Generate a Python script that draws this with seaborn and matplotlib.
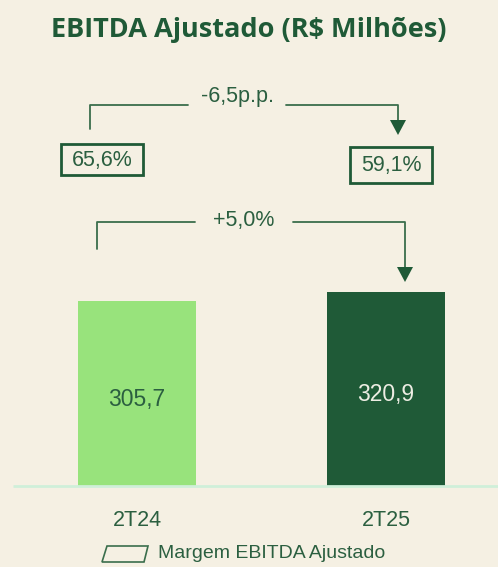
import matplotlib
matplotlib.use("Agg")
import matplotlib.pyplot as plt
import seaborn as sns
import pandas as pd
from matplotlib.patches import Polygon, Rectangle

periods = ["2T24", "2T25"]
ebitda = [305.7, 320.9]
ebitda_labels = ["305,7", "320,9"]
margins = ["65,6%", "59,1%"]
ebitda_change = "+5,0%"
margin_change = "-6,5p.p."
title = "EBITDA Ajustado (R$ Milhões)"
legend_label = "Margem EBITDA Ajustado"

BG = "#F5F0E3"
DARK = "#1F5A37"
LIGHT = "#98E37C"
TXT = "#2B5F40"
LINE = "#3A6E4C"

W, H = 498, 567
sns.set_theme(style="white")
plt.rcParams["font.family"] = ["Liberation Sans", "DejaVu Sans"]

fig = plt.figure(figsize=(W / 100, H / 100), dpi=100, facecolor=BG)
ax = fig.add_axes([0, 0, 1, 1])
ax.set_facecolor(BG)

df = pd.DataFrame({"periodo": periods, "ebitda": ebitda})
sns.barplot(data=df, x="periodo", y="ebitda", hue="periodo",
            palette=[LIGHT, DARK], width=0.474, legend=False, ax=ax,
            saturation=1, linewidth=0)

# map axes so the bars land where they are in the reference
upp = 320.9 / 194.0
ax.set_xlim(-137 / 249, (W - 137) / 249)
ax.set_ylim(-81 * upp, (H - 81) * upp)
ax.axis("off")


def P(x, y):
    # pixel (from top-left) to figure fraction
    return x / W, 1 - y / H


tf = fig.transFigure

# baseline
ax.plot([P(13, 486)[0], 1.0], [P(13, 486)[1]] * 2, transform=tf,
        color="#CFEFD9", lw=2, solid_capstyle="butt")

# value labels inside bars
for i, (v, lab) in enumerate(zip(ebitda, ebitda_labels)):
    ax.text(i, v * 0.47, lab, ha="center", va="center", fontsize=16.5,
            color=TXT if i == 0 else "#EDEDE3")

# category labels
for i, p in enumerate(periods):
    ax.text(i, -34 * upp, p, ha="center", va="center", fontsize=15.5,
            color=TXT)

# title
fig.text(*P(249, 30), title, ha="center", va="center", fontsize=19.5,
         fontweight="bold", color=DARK, family=["Open Sans", "DejaVu Sans"])


def bracket(x0, x1, y, y0, y1, gap0, gap1, label, ly):
    ax.plot(*zip(P(x0, y0), P(x0, y), P(gap0, y)), transform=tf,
            color=LINE, lw=1.3)
    ax.plot(*zip(P(gap1, y), P(x1, y), P(x1, y1 - 10)), transform=tf,
            color=LINE, lw=1.3)
    tri = Polygon([P(x1 - 8, y1 - 15), P(x1 + 8, y1 - 15), P(x1, y1)],
                  closed=True, transform=tf, color=DARK, lw=0)
    fig.patches.append(tri)
    fig.text(*P((gap0 + gap1) / 2, ly), label, ha="center", va="center",
             fontsize=15.5, color=TXT)


bracket(90, 398, 105, 129, 135, 188, 286, margin_change, 97)
bracket(97, 405, 222, 249, 282, 195, 293, ebitda_change, 221)

# margin boxes
boxes = [(61, 143, 144, 175), (350, 432, 147, 183)]
for (x0, x1, y0, y1), m in zip(boxes, margins):
    bl = P(x0, y1)
    fig.patches.append(Rectangle(bl, (x1 - x0) / W, (y1 - y0) / H,
                                 transform=tf, fc="none", ec=DARK, lw=2))
    fig.text(*P((x0 + x1) / 2, (y0 + y1) / 2 + 1), m, ha="center",
             va="center", fontsize=15.5, color=TXT)

# legend
leg = Polygon([P(102, 562), P(107, 546), P(148, 546), P(144, 562)],
              closed=True, transform=tf, fc="none", ec=LINE, lw=1.2)
fig.patches.append(leg)
fig.text(*P(158, 554), legend_label, ha="left", va="center", fontsize=14,
         color=TXT)

fig.savefig("out.png", dpi=100, facecolor=BG)
